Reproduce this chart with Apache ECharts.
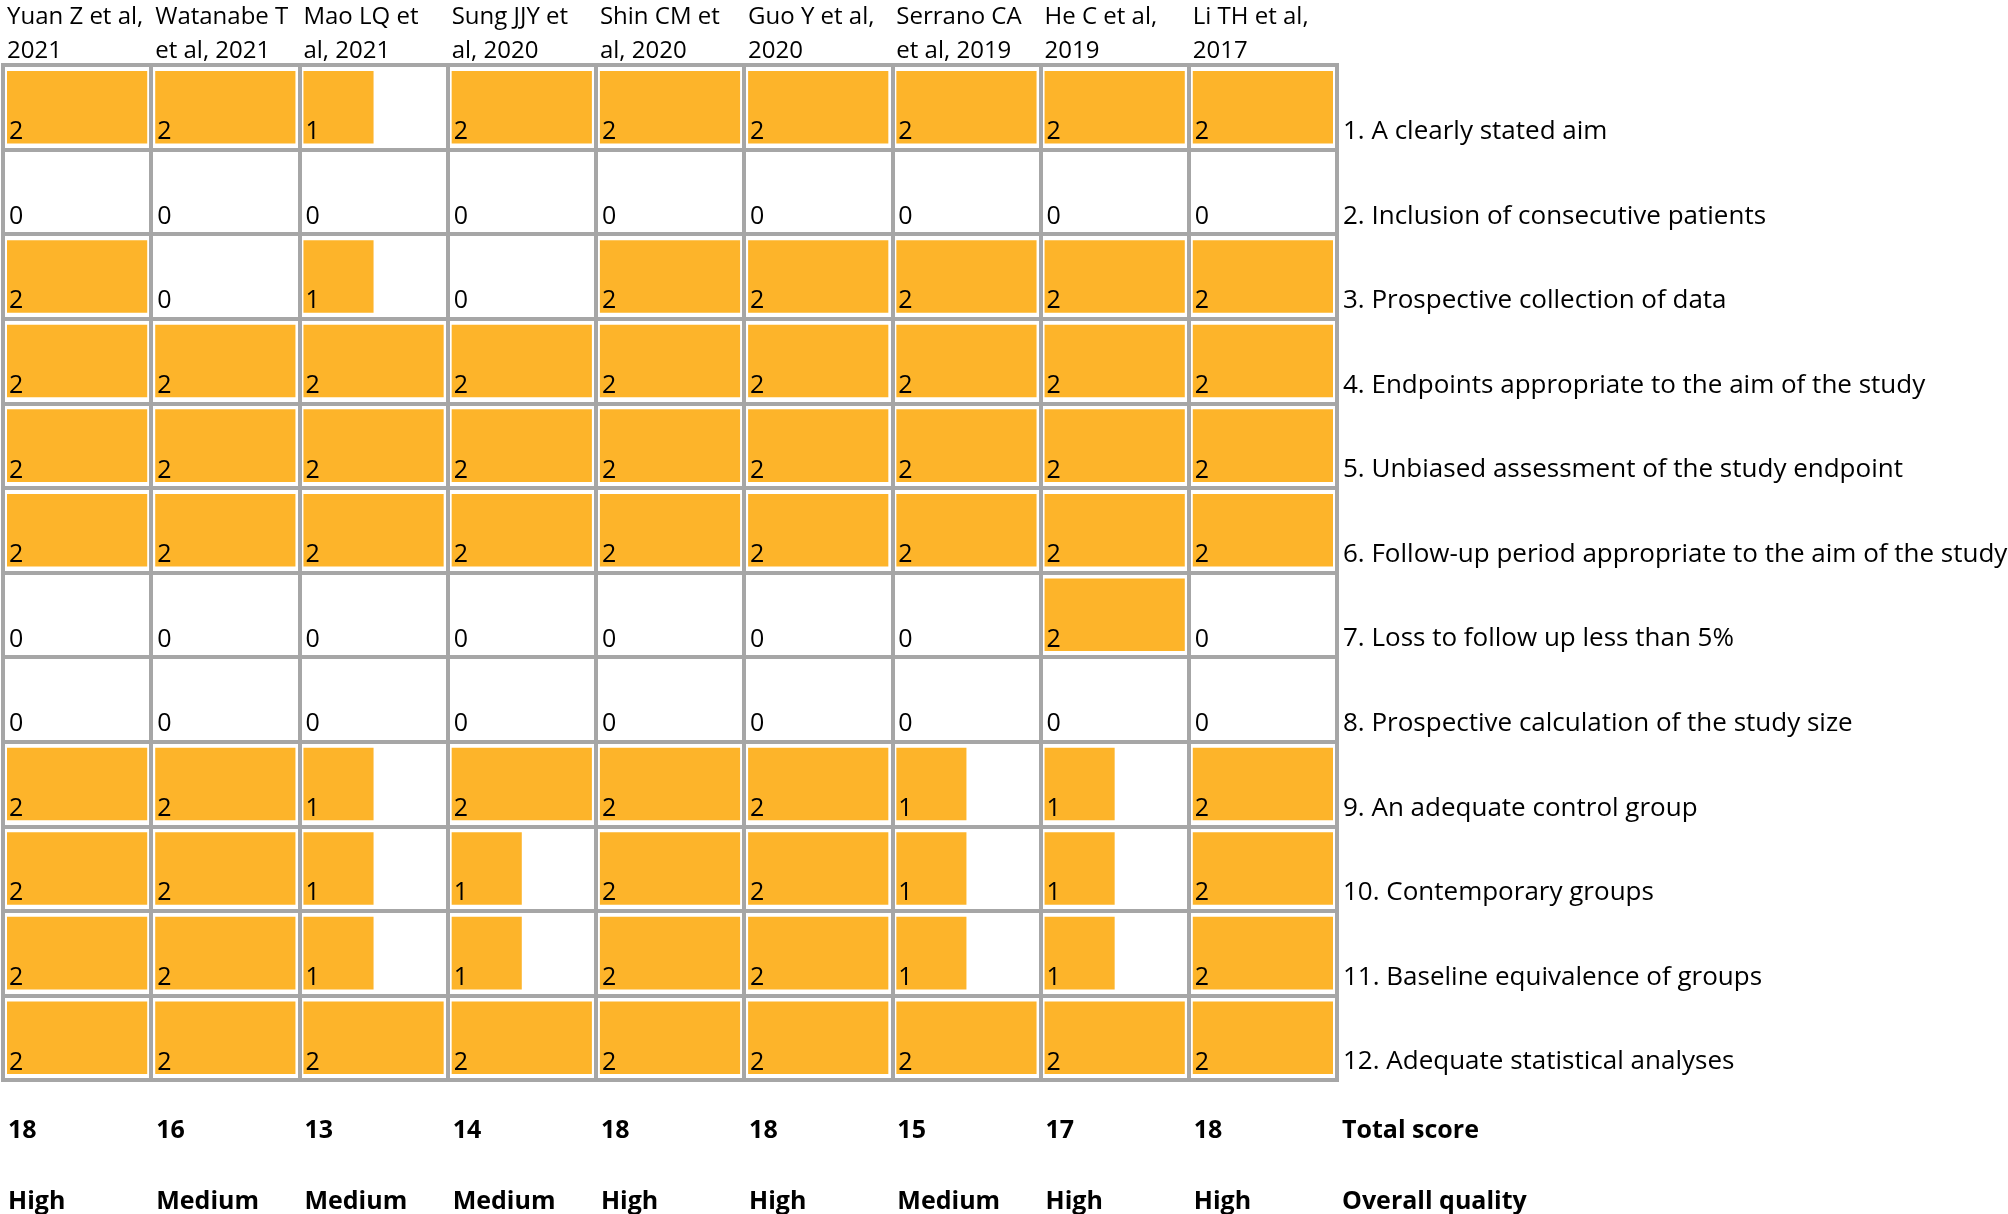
<!DOCTYPE html>
<html lang="en">
<head>
	<meta charset="utf-8">
	<title>Quality assessment</title>
	<script src="https://cdn.jsdelivr.net/npm/echarts@6/dist/echarts.min.js"></script>
</head>
<style>
	html,body{width: 100%; height: 100%; padding: 0; margin: 0; overflow: hidden; background: #fff;}
	#main{width: 2008px; height: 1214px;}
</style>
<body>
	<div id="main"></div>
</body>
<script type="text/javascript">
	var studies = ['Yuan Z et al,\n2021', 'Watanabe T\net al, 2021', 'Mao LQ et\nal, 2021', 'Sung JJY et\nal, 2020',
		'Shin CM et\nal, 2020', 'Guo Y et al,\n2020', 'Serrano CA\net al, 2019', 'He C et al,\n2019', 'Li TH et al,\n2017'];
	var items = ['1. A clearly stated aim', '2. Inclusion of consecutive patients', '3. Prospective collection of data',
		'4. Endpoints appropriate to the aim of the study', '5. Unbiased assessment of the study endpoint',
		'6. Follow-up period appropriate to the aim of the study', '7. Loss to follow up less than 5%',
		'8. Prospective calculation of the study size', '9. An adequate control group', '10. Contemporary groups',
		'11. Baseline equivalence of groups', '12. Adequate statistical analyses'];
	// one row per item, one value per study
	var scores = [
		[2, 2, 1, 2, 2, 2, 2, 2, 2],
		[0, 0, 0, 0, 0, 0, 0, 0, 0],
		[2, 0, 1, 0, 2, 2, 2, 2, 2],
		[2, 2, 2, 2, 2, 2, 2, 2, 2],
		[2, 2, 2, 2, 2, 2, 2, 2, 2],
		[2, 2, 2, 2, 2, 2, 2, 2, 2],
		[0, 0, 0, 0, 0, 0, 0, 2, 0],
		[0, 0, 0, 0, 0, 0, 0, 0, 0],
		[2, 2, 1, 2, 2, 2, 1, 1, 2],
		[2, 2, 1, 1, 2, 2, 1, 1, 2],
		[2, 2, 1, 1, 2, 2, 1, 1, 2],
		[2, 2, 2, 2, 2, 2, 2, 2, 2]
	];
	var totals = [18, 16, 13, 14, 18, 18, 15, 17, 18];
	var quality = ['High', 'Medium', 'Medium', 'Medium', 'High', 'High', 'Medium', 'High', 'High'];

	var FONT = '"Open Sans", "Noto Sans", sans-serif';
	var GRAY = '#a6a6a6';
	var ORANGE = '#fdb42a';

	var cells = [];
	for (var r = 0; r < scores.length; r++) {
		for (var c = 0; c < scores[r].length; c++) {
			cells.push([c, r, scores[r][c]]);
		}
	}

	var myChart = echarts.init(document.getElementById('main'));
	var option = {
		backgroundColor: '#fff',
		animation: false,
		grid: {
			left: 3, top: 65, width: 1334, height: 1015, show: true, borderColor: GRAY, borderWidth: 4,
			containLabel: false, outerBoundsMode: 'none'
		},
		xAxis: [{
			type: 'value', min: 0, max: studies.length, interval: 1, position: 'top',
			axisLine: {show: false}, axisTick: {show: false},
			splitLine: {show: true, lineStyle: {color: GRAY, width: 4}},
			axisLabel: {
				formatter: function (v) { return v < studies.length ? studies[v] : ''; },
				showMinLabel: true, showMaxLabel: true, hideOverlap: false,
				align: 'left', verticalAlign: 'bottom', margin: -3, padding: [0, 0, 0, 4],
				fontFamily: FONT, fontSize: 24, lineHeight: 34, color: '#000'
			}
		}, {
			type: 'value', min: 0, max: studies.length, interval: 1, position: 'bottom',
			axisLine: {show: false}, axisTick: {show: false}, splitLine: {show: false},
			axisLabel: {
				formatter: function (v) {
					return v < studies.length ? totals[v] + '\n' + quality[v] : 'Total score\nOverall quality';
				},
				showMinLabel: true, showMaxLabel: true, hideOverlap: false,
				align: 'left', verticalAlign: 'top', margin: 15, padding: [0, 0, 0, 5],
				fontFamily: FONT, fontSize: 25, fontWeight: 'bold', lineHeight: 71, color: '#000'
			}
		}],
		yAxis: {
			type: 'value', min: 0, max: items.length, interval: 1, inverse: true, position: 'right',
			axisLine: {show: false}, axisTick: {show: false},
			splitLine: {show: true, lineStyle: {color: GRAY, width: 4}},
			axisLabel: {
				formatter: function (v) { return v >= 1 ? items[v - 1] : ''; },
				showMinLabel: true, showMaxLabel: true, hideOverlap: false,
				align: 'left', verticalAlign: 'bottom', margin: 6, padding: [0, 0, 5, 0],
				fontFamily: FONT, fontSize: 26, color: '#000'
			}
		},
		series: [{
			type: 'custom',
			xAxisIndex: 0,
			data: cells,
			renderItem: function (params, api) {
				var col = api.value(0), row = api.value(1), v = api.value(2);
				var p0 = api.coord([col, row]);
				var p1 = api.coord([col + 1, row + 1]);
				var ix = 4, iy = 6;
				var w = (p1[0] - p0[0] - 2 * ix) * v / 2;
				var children = [];
				if (v > 0) {
					children.push({
						type: 'rect',
						shape: {x: p0[0] + ix, y: p0[1] + iy, width: w, height: p1[1] - p0[1] - 2 * iy},
						style: {fill: ORANGE}
					});
				}
				children.push({
					type: 'text',
					style: {
						text: String(v), x: p0[0] + 6, y: p1[1] - 5,
						verticalAlign: 'bottom', align: 'left',
						font: '25px ' + FONT, fill: '#000'
					}
				});
				return {type: 'group', children: children};
			}
		}]
	};
	myChart.setOption(option);
</script>
</html>
